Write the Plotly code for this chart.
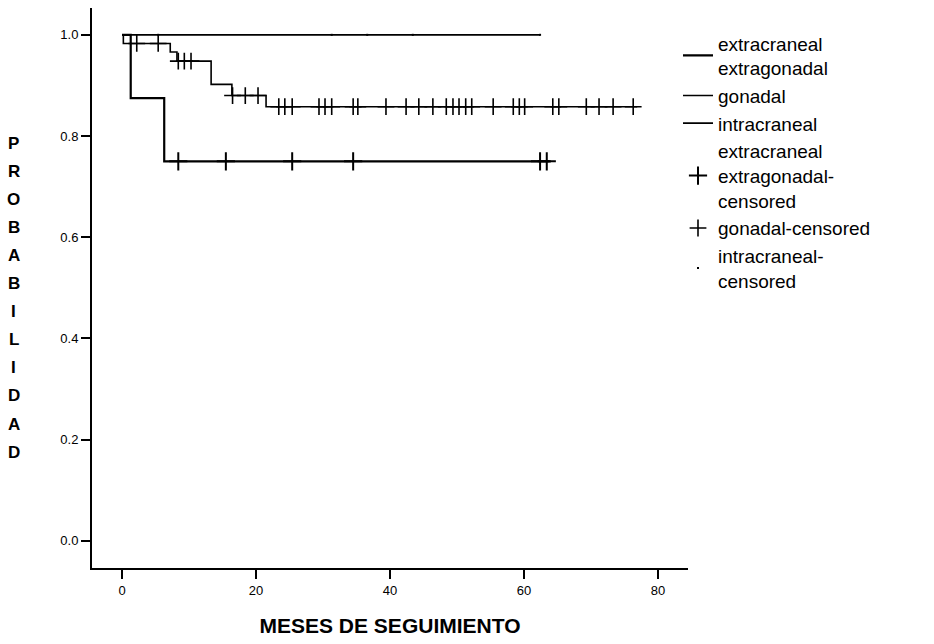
import plotly.graph_objects as go
import numpy as np

# ---------------- data ----------------
# Kaplan-Meier step curves: event times (months) and survival after each step
ee_times = [0, 1.3, 6.3, 64.0]
ee_surv = [1.0, 0.875, 0.75, 0.75]
ee_censor = [8.4, 15.5, 25.4, 34.5, 62.4, 63.4]

gon_times = [0, 0.2, 7.2, 8.2, 13.3, 16.4, 21.5, 76.9]
gon_surv = [1.0, 0.983, 0.966, 0.948, 0.902, 0.880, 0.858, 0.858]
gon_censor = [2.2, 5.4, 8.4, 9.3, 10.3, 16.5, 18.4, 20.3, 23.4, 24.3, 25.4,
              29.4, 30.3, 31.3, 34.5, 35.2, 39.4, 42.4, 44.3, 46.4, 48.4,
              49.4, 50.3, 51.3, 52.2, 55.4, 58.4, 59.3, 60.1, 64.3, 65.2,
              69.3, 71.2, 73.3, 76.3]

intra_times = [0, 62.4]
intra_surv = [1.0, 1.0]
intra_censor = [5.4, 31.3, 36.6, 43.4, 62.4]

x_ticks = [0, 20, 40, 60, 80]
y_ticks = [0.0, 0.2, 0.4, 0.6, 0.8, 1.0]
y_tick_labels = ["0.0", "0.2", "0.4", "0.6", "0.8", "1.0"]
y_title = "PROBABILIDAD"
x_title = "MESES DE SEGUIMIENTO"


def level_at(times, surv, t):
    idx = np.searchsorted(np.array(times), t, side="right") - 1
    return surv[max(idx, 0)]


FONT = "Liberation Sans, Arial, sans-serif"
fig = go.Figure()

fig.add_trace(go.Scatter(x=ee_times, y=ee_surv, mode="lines",
                         line=dict(color="black", width=2.2, shape="hv"),
                         name="extracraneal<br>extragonadal"))
fig.add_trace(go.Scatter(x=gon_times, y=gon_surv, mode="lines",
                         line=dict(color="black", width=1.6, shape="hv"),
                         name="gonadal"))
fig.add_trace(go.Scatter(x=intra_times, y=intra_surv, mode="lines",
                         line=dict(color="black", width=1.8, shape="hv"),
                         name="intracraneal"))

fig.add_trace(go.Scatter(x=ee_censor, y=[level_at(ee_times, ee_surv, t) for t in ee_censor],
                         mode="markers",
                         marker=dict(symbol="cross-thin", size=13, line=dict(color="black", width=2)),
                         name="extracraneal<br>extragonadal-<br>censored"))
fig.add_trace(go.Scatter(x=gon_censor, y=[level_at(gon_times, gon_surv, t) for t in gon_censor],
                         mode="markers",
                         marker=dict(symbol="cross-thin", size=12, line=dict(color="black", width=1.6)),
                         name="gonadal-censored"))
fig.add_trace(go.Scatter(x=intra_censor, y=[level_at(intra_times, intra_surv, t) for t in intra_censor],
                         mode="markers",
                         marker=dict(symbol="square", size=2, color="black", line=dict(width=0)),
                         name="intracraneal-<br>censored"))

# stacked vertical y-axis title, one letter per line
annotations = []
for i, ch in enumerate(y_title):
    annotations.append(dict(
        text="<b>%s</b>" % ch, xref="paper", yref="paper",
        x=-0.131, y=(568 - 143 - i * 28.1) / 560,
        xanchor="center", yanchor="middle", showarrow=False,
        font=dict(family=FONT, size=17, color="black")))

fig.update_layout(
    width=934, height=644,
    paper_bgcolor="white", plot_bgcolor="white",
    margin=dict(l=92, r=246, t=8, b=76),
    font=dict(family=FONT, color="black", size=13),
    showlegend=True,
    legend=dict(x=1.0 - 10 / 596, y=0.971, xanchor="left", yanchor="top",
                font=dict(family=FONT, size=19, color="black"),
                itemwidth=30, bgcolor="rgba(0,0,0,0)"),
    annotations=annotations,
)

fig.update_xaxes(range=[-4.48, 84.48], tickvals=x_ticks, ticktext=[str(v) for v in x_ticks],
                 showgrid=False, zeroline=False, showline=True, linecolor="black", linewidth=2,
                 ticks="outside", ticklen=9, tickwidth=2, tickcolor="black",
                 tickfont=dict(family=FONT, size=13, color="black"),
                 title=dict(text="<b>%s</b>" % x_title,
                            font=dict(family=FONT, size=21, color="black"), standoff=22))
fig.update_yaxes(range=[-0.0535, 1.053], tickvals=y_ticks, ticktext=y_tick_labels,
                 showgrid=False, zeroline=False, showline=True, linecolor="black", linewidth=2,
                 ticks="outside", ticklen=9, tickwidth=2, tickcolor="black",
                 tickfont=dict(family=FONT, size=13, color="black"))

fig.write_html("out.html", config={"displayModeBar": False})

# remove the browser's default body margin so the figure sits at the page origin
with open("out.html", "r", encoding="utf-8") as f:
    html = f.read()
html = html.replace("<body>", '<body style="margin:0;padding:0;">', 1)
with open("out.html", "w", encoding="utf-8") as f:
    f.write(html)
